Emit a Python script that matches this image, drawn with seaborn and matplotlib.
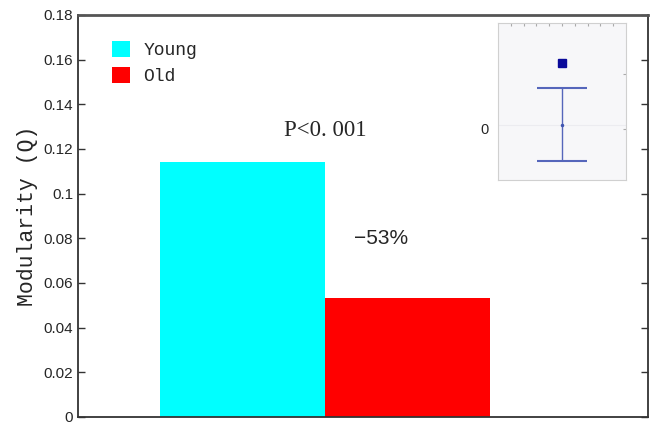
import matplotlib
matplotlib.use("Agg")
import matplotlib.pyplot as plt
from matplotlib.patches import Patch
import seaborn as sns

# data
groups = ["Young", "Old"]
modularity = [0.1142, 0.0533]
bar_colors = ["#00ffff", "#ff0000"]
yticks = [0, 0.02, 0.04, 0.06, 0.08, 0.1, 0.12, 0.14, 0.16, 0.18]
ytick_labels = ["0", "0.02", "0.04", "0.06", "0.08", "0.1", "0.12", "0.14", "0.16", "0.18"]
p_text = "P<0. 001"
change_text = "\u221253%"

# the little stray inset in the top right corner
inset_point = [0, 1.7]
inset_err_y = [0]
inset_err = [1.0]

sns.set_style("white")

fig = plt.figure(figsize=(6.5, 4.29), dpi=100)
ax = fig.add_axes([78 / 650, 12 / 429, 570 / 650, 402 / 429])

sns.barplot(x=groups, y=modularity, hue=groups, palette=bar_colors,
            width=1.0, dodge=False, legend=False, saturation=1,
            linewidth=0, ax=ax)

ax.set_xlim(-0.997, 2.46)
ax.set_ylim(0, 0.18)
ax.set_xticks([])
ax.set_yticks(yticks)
ax.set_yticklabels(ytick_labels, family="Liberation Sans", fontsize=11)
ax.set_ylabel("Modularity (Q)", family="Liberation Mono", fontsize=15.5, labelpad=4)

for s in ax.spines.values():
    s.set_visible(True)
    s.set_color("#333333")
    s.set_linewidth(1.3)
ax.spines["top"].set_color("#555555")
ax.spines["top"].set_linewidth(2)
ax.tick_params(axis="y", direction="in", length=5, width=1, color="#333333",
               left=True, right=True, labelright=False, pad=3.5)

ax.text(0.5, 0.1285, p_text, ha="center", va="center",
        family=["Liberation Serif", "DejaVu Serif"], fontsize=16.5)
ax.text(0.84, 0.0801, change_text, ha="center", va="center",
        family=["Liberation Sans Narrow", "Liberation Sans"], fontsize=15)

handles = [Patch(facecolor=c, edgecolor="none") for c in bar_colors]
ax.legend(handles, groups, loc="upper left", bbox_to_anchor=(0.032, 0.975),
          frameon=False, handlelength=0.95, handleheight=0.95, handletextpad=0.75,
          labelspacing=0.45, prop={"family": "Liberation Mono", "size": 13})

# inset
ins = fig.add_axes([498 / 650, 1 - 180 / 429, 128 / 650, 157 / 429])
ins.set_facecolor("#f7f7f9")
ins.errorbar(inset_err_y, inset_err_y, yerr=inset_err, fmt="o", ms=1.5,
             color="#4055b0", ecolor="#5566bb", elinewidth=1, capsize=18, capthick=1.5)
ins.plot(inset_point[0], inset_point[1], "s", ms=6, color="#0a0a9a")
ins.set_xlim(-5, 5)
ins.set_ylim(-1.51, 2.79)
ins.axhline(0, color="#ececf0", lw=0.8, zorder=0)
ins.set_xticks(range(-4, 5))
ins.set_xticklabels([])
ins.set_yticks([-0.1, 1.4])
ins.set_yticklabels(["0", ""], family="Liberation Sans", fontsize=10.5)
ins.tick_params(direction="in", length=2, color="#aaaaaa", top=True, right=True,
                labelsize=10.5, pad=7)
for s in ins.spines.values():
    s.set_color("#d0d0d0")
    s.set_linewidth(0.8)

fig.savefig("out.png", dpi=100)
